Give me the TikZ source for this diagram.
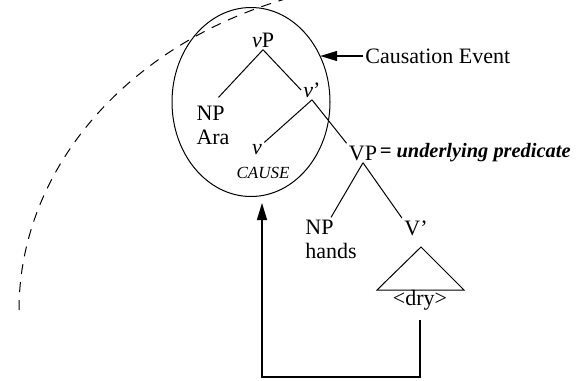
\documentclass[tikz,border=0pt]{standalone}
\usepackage{fontspec}
\setmainfont{Liberation Serif}
\usetikzlibrary{shapes.geometric,arrows.meta}

\begin{document}
\begin{tikzpicture}[x=0.5pt, y=-0.5pt, >={Triangle[length=8.5pt,width=5pt]},
		font=\fontsize{11}{12}\selectfont,
		lbl/.style={inner sep=1pt},
		edge/.style={line width=0.5pt},
		conn/.style={line width=0.7pt, ->}]
		\useasboundingbox (0,0) rectangle (583,380);
		% ---------------- dashed arc ----------------
		\begin{scope}
			\clip (0,0) rectangle (583,380);
			\draw[edge, dash pattern=on 5pt off 4pt] plot[domain=180:100, samples=80] ({419+400*cos(\x)},{310-330*sin(\x)});
		\end{scope}
		% ---------------- causation event ----------------
		\node[draw, ellipse, edge, minimum width=79pt, minimum height=94.5pt, inner sep=0pt] (cause) at (251,102) {};
		\node[lbl, anchor=west] (evt) at (363,56) {Causation Event};
		\draw[conn] (evt.west) -- (evt.west -| cause.34);
		% ---------------- tree ----------------
		\node[lbl] (vP) at (263,40) {\textit{v}P};
		\node[lbl, align=left] (npara) at (213,125) {NP\\Ara};
		\node[lbl] (vbar) at (312,90) {\textit{v}'};
		\node[lbl] (vhead) at (257,150) {\textit{v}};
		\node[lbl, font=\fontsize{8.5}{10}\selectfont\itshape] (causetxt) at (263,173) {CAUSE};
		\node[lbl] (VP) at (363,153) {VP};
		\node[lbl, anchor=west, font=\fontsize{10.2}{12}\selectfont\bfseries\itshape] (pred) at ([xshift=-1pt]VP.east) {= underlying predicate};
		\node[lbl, align=left, anchor=west] (nphands) at (303,239) {NP\\hands};
		\node[lbl] (Vbar) at (416,228) {V'};
		\node[lbl] (dry) at (420,300) {<dry>};
		\draw[edge, shorten >=4pt] (vP.south) -- (npara.north);
		\draw[edge] (vP.south) -- (vbar.west);
		\draw[edge] (vbar.south) -- (vhead.north east);
		\draw[edge] (vbar.south) -- (VP.north west);
		\draw[edge] (VP.south) -- (nphands.north);
		\draw[edge] (VP.south) -- (Vbar.north west);
		% triangle under V'
		\draw[edge] (421,247) -- (377,290) -- (464,290) -- cycle;
		% ---------------- back to the event ----------------
		\coordinate (turn) at (262,377);
		\coordinate (tip) at (262,203);
		\draw[conn] ([yshift=-4pt]dry.south) |- (turn) -- (tip);
\end{tikzpicture}
\end{document}
